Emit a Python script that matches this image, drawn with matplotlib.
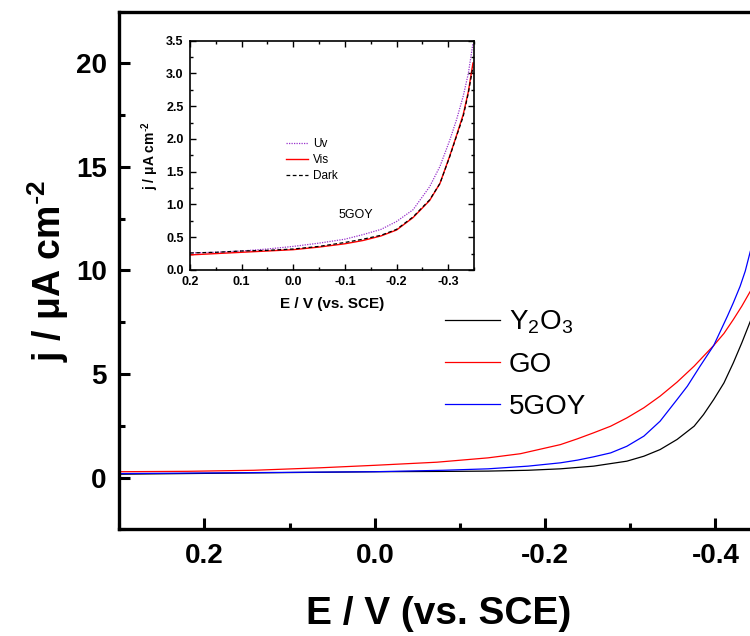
import numpy as np
import matplotlib
matplotlib.use('Agg')
import matplotlib.pyplot as plt
from matplotlib.ticker import MultipleLocator

plt.rcParams['font.family'] = ['Liberation Sans', 'DejaVu Sans']
plt.rcParams['mathtext.fontset'] = 'custom'
plt.rcParams['mathtext.default'] = 'regular'
plt.rcParams['axes.unicode_minus'] = False

# ---- main plot data (E in V vs SCE, j in uA cm-2) ----
E_y2o3 = [0.30, 0.20, 0.10, 0.00, -0.10, -0.133, -0.18, -0.218, -0.257, -0.296, -0.316, -0.335,
          -0.355, -0.375, -0.386, -0.398, -0.410, -0.421, -0.431, -0.441]
j_y2o3 = [0.16, 0.20, 0.24, 0.28, 0.30, 0.31, 0.35, 0.42, 0.55, 0.79, 1.03, 1.35,
          1.84, 2.48, 3.04, 3.77, 4.57, 5.54, 6.51, 7.55]

E_go = [0.30, 0.22, 0.142, 0.064, 0.00, -0.073, -0.133, -0.171, -0.218, -0.238, -0.257, -0.277,
        -0.296, -0.316, -0.335, -0.355, -0.375, -0.386, -0.398, -0.410, -0.421, -0.431, -0.441]
j_go = [0.28, 0.30, 0.35, 0.47, 0.59, 0.74, 0.95, 1.15, 1.59, 1.87, 2.16, 2.48,
        2.88, 3.37, 3.93, 4.61, 5.38, 5.86, 6.38, 6.96, 7.63, 8.28, 9.00]

E_5goy = [0.30, 0.20, 0.10, 0.00, -0.08, -0.133, -0.18, -0.218, -0.238, -0.257, -0.277, -0.296,
          -0.316, -0.335, -0.355, -0.367, -0.382, -0.398, -0.414, -0.421, -0.429, -0.435, -0.441]
j_5goy = [0.19, 0.22, 0.25, 0.28, 0.35, 0.42, 0.55, 0.71, 0.84, 1.00, 1.19, 1.51,
          2.00, 2.72, 3.77, 4.41, 5.38, 6.38, 7.79, 8.44, 9.24, 9.97, 10.93]

labels_main = ['Y$_2$O$_3$', 'GO', '5GOY']
colors_main = ['black', 'red', 'blue']

# ---- inset data (5GOY under light conditions) ----
E_in = [0.20, 0.15, 0.10, 0.05, 0.00, -0.05, -0.10, -0.135, -0.17, -0.20, -0.232, -0.264,
        -0.284, -0.303, -0.316, -0.329, -0.339, -0.348]
j_uv = [0.26, 0.27, 0.29, 0.32, 0.36, 0.41, 0.47, 0.54, 0.62, 0.74, 0.92, 1.27,
        1.58, 1.98, 2.29, 2.65, 3.00, 3.46]
j_vis = [0.23, 0.25, 0.27, 0.29, 0.31, 0.35, 0.40, 0.45, 0.52, 0.61, 0.80, 1.06,
         1.32, 1.74, 2.05, 2.37, 2.72, 3.16]
j_dark = [0.26, 0.27, 0.29, 0.30, 0.32, 0.36, 0.42, 0.47, 0.53, 0.62, 0.81, 1.07,
          1.32, 1.73, 2.04, 2.34, 2.70, 3.10]

ylab = 'j / $\\mu$A cm$^{\\text{-}2}$'

fig = plt.figure(figsize=(7.5, 6.36), dpi=100)
ax = fig.add_axes([0.159, 0.1678, 0.8517, 0.8138])

for E, j, lab, c in zip([E_y2o3, E_go, E_5goy], [j_y2o3, j_go, j_5goy], labels_main, colors_main):
    ax.plot(E, j, color=c, lw=0.9, label=lab)

ax.set_xlim(0.3, -0.45)
ax.set_ylim(-2.5, 22.5)
ax.xaxis.set_major_locator(MultipleLocator(0.2))
ax.xaxis.set_minor_locator(MultipleLocator(0.1))
ax.yaxis.set_major_locator(MultipleLocator(5))
ax.yaxis.set_minor_locator(MultipleLocator(2.5))
ax.tick_params(which='both', direction='in', width=2.2)
ax.tick_params(which='major', length=8)
ax.tick_params(which='minor', length=4)
ax.tick_params(axis='x', pad=10)
ax.tick_params(axis='y', pad=9)
for lab in ax.get_xticklabels() + ax.get_yticklabels():
    lab.set_fontsize(20)
    lab.set_fontweight('bold')
for s in ax.spines.values():
    s.set_linewidth(2.4)

ax.set_xlabel('E / V (vs. SCE)', fontsize=28, fontweight='bold', labelpad=19)
ax.set_ylabel(ylab, fontsize=27, fontweight='bold')
ax.yaxis.set_label_coords(-0.075, 0.5)

ax.legend(loc='upper left', bbox_to_anchor=(0.593, 0.515), bbox_transform=fig.transFigure,
          frameon=False, fontsize=20, handlelength=2.0, handletextpad=0.3,
          labelspacing=0.58, borderpad=0, borderaxespad=0)

# ---- inset ----
ax_in = fig.add_axes([0.2533, 0.5755, 0.3787, 0.3605])
ax_in.plot(E_in, j_uv, color='#9933cc', lw=0.9, ls=(0, (1, 1)), label='Uv')
ax_in.plot(E_in, j_vis, color='red', lw=1.0, label='Vis')
ax_in.plot(E_in, j_dark, color='black', lw=0.9, ls=(0, (3, 2)), label='Dark')
ax_in.set_xlim(0.2, -0.35)
ax_in.set_ylim(0, 3.5)
ax_in.xaxis.set_major_locator(MultipleLocator(0.1))
ax_in.xaxis.set_minor_locator(MultipleLocator(0.05))
ax_in.yaxis.set_major_locator(MultipleLocator(0.5))
ax_in.yaxis.set_minor_locator(MultipleLocator(0.25))
ax_in.tick_params(which='both', direction='in', width=1.0, top=True, right=True, pad=4.5)
ax_in.tick_params(which='major', length=4)
ax_in.tick_params(which='minor', length=2.5)
for lab in ax_in.get_xticklabels() + ax_in.get_yticklabels():
    lab.set_fontsize(9)
    lab.set_fontweight('bold')
for s in ax_in.spines.values():
    s.set_linewidth(1.2)
ax_in.set_xlabel('E / V (vs. SCE)', fontsize=11, fontweight='bold', labelpad=6)
ax_in.set_ylabel(ylab, fontsize=10, fontweight='bold', labelpad=4)
ax_in.legend(loc='upper left', bbox_to_anchor=(0.381, 0.783), bbox_transform=fig.transFigure,
             frameon=False, fontsize=8.5, handlelength=1.9, handletextpad=0.4,
             labelspacing=0.35, borderpad=0, borderaxespad=0)
ax_in.text(0.585, 0.24, '5GOY', transform=ax_in.transAxes, fontsize=9, ha='center', va='center')

fig.savefig('out.png', dpi=100)
